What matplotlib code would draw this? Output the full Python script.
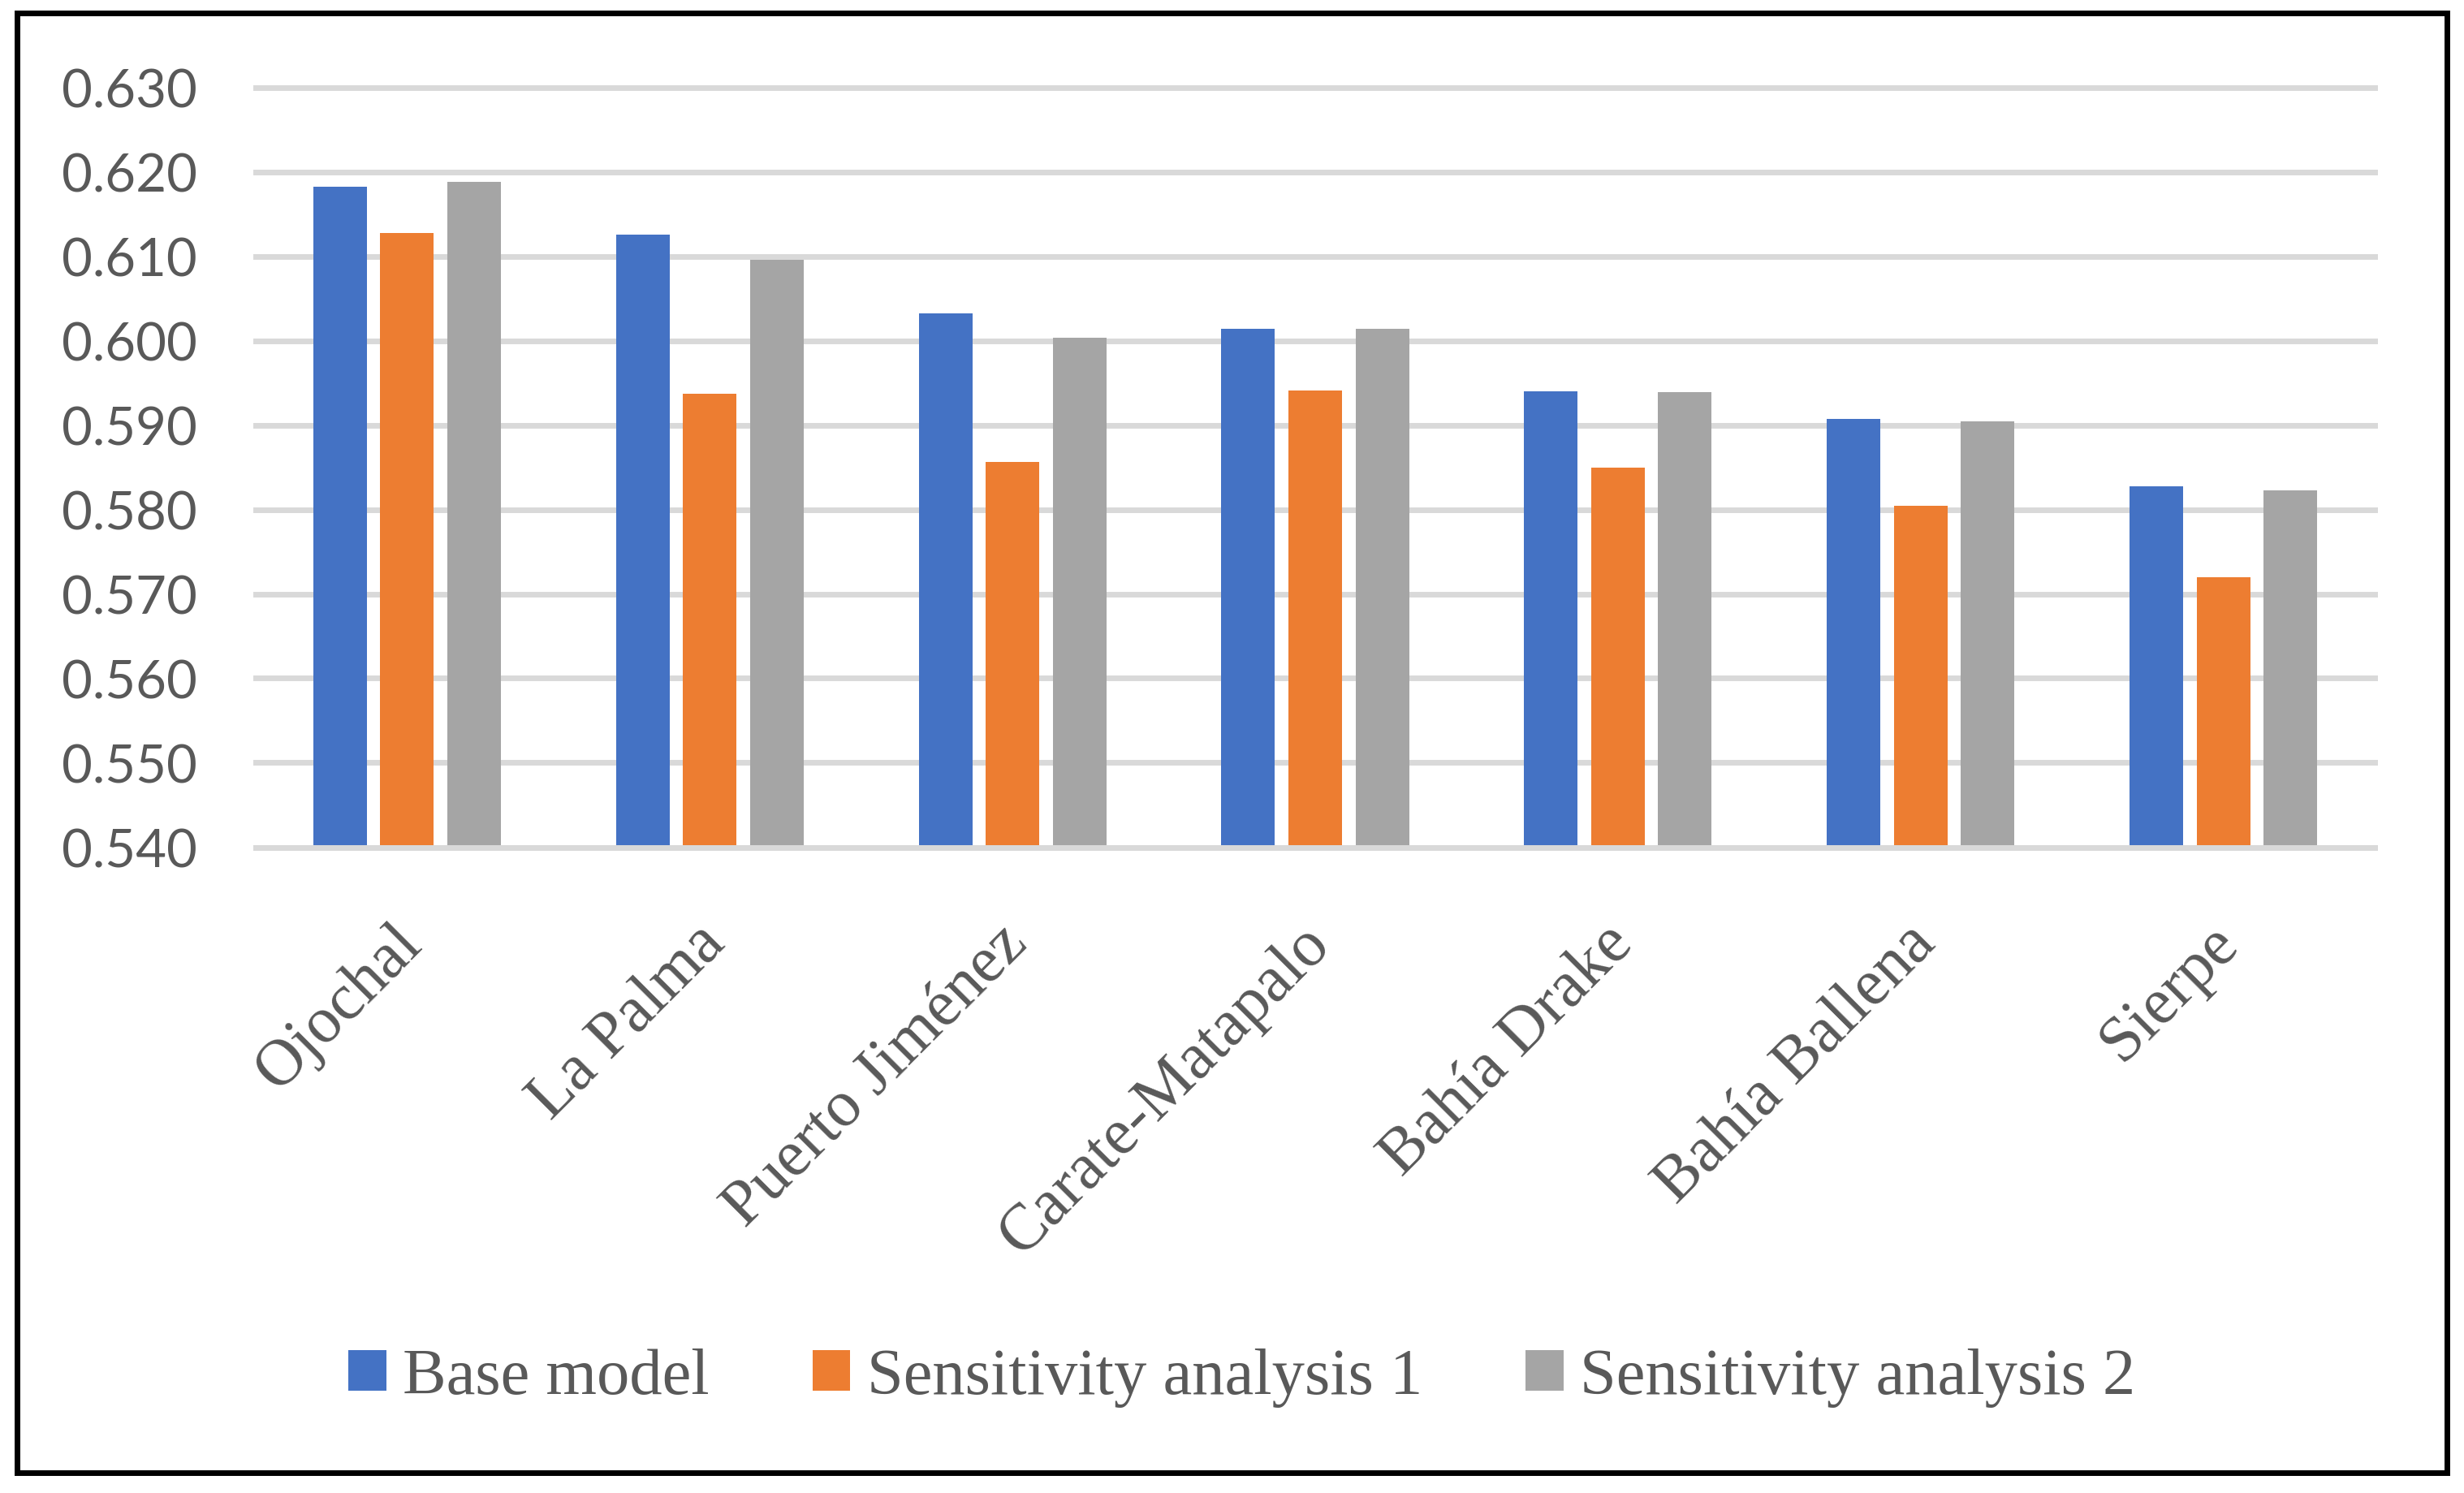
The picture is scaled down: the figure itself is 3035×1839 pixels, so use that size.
import matplotlib.pyplot as plt
import numpy as np
from matplotlib.patches import Rectangle
from matplotlib.transforms import ScaledTranslation

sites = ["Ojochal", "La Palma", "Puerto Jiménez", "Carate-Matapalo",
         "Bahía Drake", "Bahía Ballena", "Sierpe"]
base_model = [0.6182, 0.6125, 0.6032, 0.6014, 0.5940, 0.5907, 0.5827]
sens_1 = [0.6127, 0.5937, 0.5856, 0.5941, 0.5850, 0.5804, 0.5720]
sens_2 = [0.6188, 0.6096, 0.6003, 0.6014, 0.5939, 0.5904, 0.5823]
series_names = ["Base model", "Sensitivity analysis 1", "Sensitivity analysis 2"]
colors = ["#4472C4", "#ED7D31", "#A5A5A5"]
yticks = [0.540, 0.550, 0.560, 0.570, 0.580, 0.590, 0.600, 0.610, 0.620, 0.630]

W, H = 3035, 1840
fig = plt.figure(figsize=(W / 100, H / 100), dpi=100)
ax = fig.add_axes([315 / W, 1 - 1044.5 / H, 2610 / W, 936 / H])

x = np.arange(len(sites))
bar_w = 0.177
step = 0.2213
handles = []
for i, (vals, name, c) in enumerate(zip([base_model, sens_1, sens_2], series_names, colors)):
    h = ax.bar(x + (i - 1) * step, vals, width=bar_w, color=c, label=name, zorder=2)
    handles.append(h)

ax.set_xlim(-0.5, len(sites) - 0.5)
ax.set_ylim(0.540, 0.630)
ax.set_yticks(yticks)
ax.set_yticklabels([f"{v:.3f}" for v in yticks])
ax.yaxis.grid(True, color="#D9D9D9", lw=5)
for gl in ax.get_ygridlines():
    gl.set_clip_on(False)
ax.set_axisbelow(True)
ax.axhline(0.540, color="#D9D9D9", lw=5, zorder=3, clip_on=False)
for s in ax.spines.values():
    s.set_visible(False)
ax.tick_params(axis="y", length=0, pad=52, labelsize=47, labelcolor="#595959")
for lbl in ax.get_yticklabels():
    lbl.set_fontfamily("Lato")
ax.set_xticks([])

# rotated category labels
off = ScaledTranslation(-0.19, -0.06, fig.dpi_scale_trans)
for xi, name in zip(x, sites):
    ax.text(xi, -0.08, name, transform=ax.get_xaxis_transform() + off,
            rotation=45, ha="right", va="top", rotation_mode="anchor",
            fontfamily="Liberation Serif", fontsize=58, color="#595959")

fig.legend(handles, series_names, loc="center", bbox_to_anchor=(0.504, 1 - 1698 / H),
           ncol=3, frameon=False, prop={"family": "Liberation Serif", "size": 58},
           labelcolor="#595959", handlelength=0.58, handleheight=0.56,
           handletextpad=0.25, columnspacing=1.58)

fig.patches.append(Rectangle((21 / W, 1 - 1815 / H), (3014 - 21) / W, (1815 - 17) / H,
                             transform=fig.transFigure, fill=False, lw=5, ec="black"))

fig.savefig("out.png", dpi=100)
plt.close()
